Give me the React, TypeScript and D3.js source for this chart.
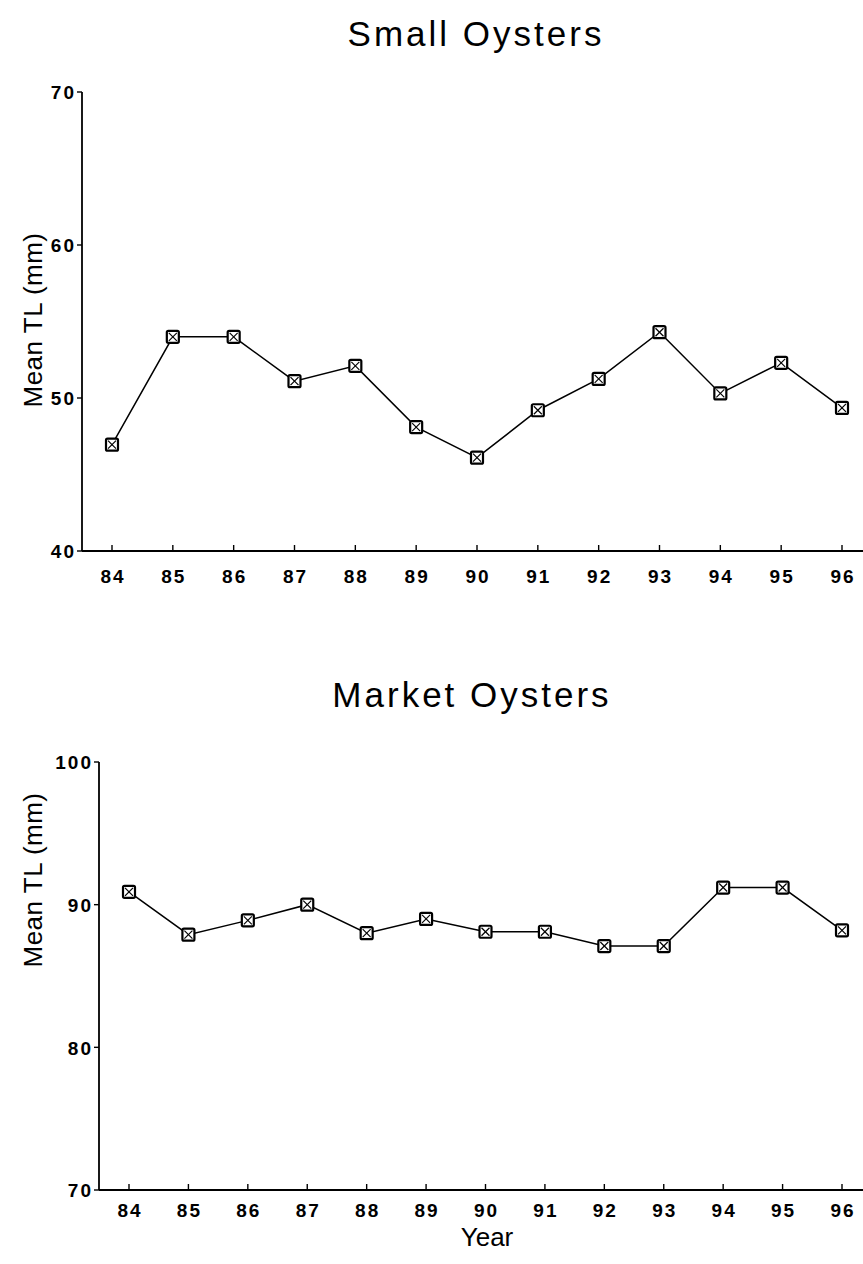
import React from "react";
import * as d3 from "d3";

const years = [84, 85, 86, 87, 88, 89, 90, 91, 92, 93, 94, 95, 96];
const smallValues = [46.95, 54.0, 54.0, 51.1, 52.1, 48.1, 46.1, 49.2, 51.25, 54.3, 50.3, 52.3, 49.35];
const marketValues = [90.9, 87.9, 88.9, 90.0, 88.0, 89.0, 88.1, 88.1, 87.1, 87.1, 91.2, 91.2, 88.2];
const smallTicks = [40, 50, 60, 70];
const marketTicks = [70, 80, 90, 100];

const FONT = "'Liberation Sans', Arial, Helvetica, sans-serif";

type PanelProps = {
  title: string;
  titleX: number;
  titleY: number;
  values: number[];
  yTicks: number[];
  axisX: number;
  top: number;
  bottom: number;
  x84: number;
  x96: number;
  right: number;
  yLabelCenter: number;
  labelDy: number;
  xTitle?: string;
  xTitleX?: number;
  xTitleY?: number;
};

function Panel(p: PanelProps) {
  const y = d3.scaleLinear().domain([p.yTicks[0], p.yTicks[p.yTicks.length - 1]]).range([p.bottom, p.top]);
  const x = d3.scaleLinear().domain([years[0], years[years.length - 1]]).range([p.x84, p.x96]);
  const pts = years.map((yr, i) => [x(yr), y(p.values[i])] as [number, number]);
  const line = d3.line()(pts) || "";
  const s = 6;
  return (
    <g>
      <text x={p.titleX} y={p.titleY} fontFamily={FONT} fontSize={35} letterSpacing={3} textAnchor="middle">{p.title}</text>
      <line x1={p.axisX} x2={p.axisX} y1={p.top} y2={p.bottom} stroke="#000" strokeWidth={1.8} />
      <line x1={p.axisX} x2={p.right} y1={p.bottom} y2={p.bottom} stroke="#000" strokeWidth={1.8} />
      {p.yTicks.map((t) => (
        <g key={t}>
          <line x1={p.axisX - 5} x2={p.axisX} y1={y(t)} y2={y(t)} stroke="#000" strokeWidth={1.4} />
          <text x={p.axisX - 6} y={y(t)} dy="0.38em" textAnchor="end" fontFamily={FONT} fontSize={19} fontWeight="bold" letterSpacing={2}>{t}</text>
        </g>
      ))}
      {years.map((yr) => (
        <g key={yr}>
          <line x1={x(yr)} x2={x(yr)} y1={p.bottom} y2={p.bottom - 6} stroke="#000" strokeWidth={1.4} />
          <text x={x(yr) + 1} y={p.bottom + p.labelDy} textAnchor="middle" fontFamily={FONT} fontSize={19} fontWeight="bold" letterSpacing={2}>{yr}</text>
        </g>
      ))}
      <text transform={`translate(42,${p.yLabelCenter}) rotate(-90)`} textAnchor="middle" fontFamily={FONT} fontSize={26} letterSpacing={0.5}>Mean TL (mm)</text>
      {p.xTitle && (
        <text x={p.xTitleX} y={p.xTitleY} textAnchor="middle" fontFamily={FONT} fontSize={26}>{p.xTitle}</text>
      )}
      <path d={line} fill="none" stroke="#000" strokeWidth={1.5} />
      {pts.map(([px, py], i) => (
        <g key={i}>
          <rect x={px - s} y={py - s} width={2 * s} height={2 * s} fill="#fff" stroke="#000" strokeWidth={2.2} rx={1.5} />
          <line x1={px - s + 2} y1={py - s + 2} x2={px + s - 2} y2={py + s - 2} stroke="#000" strokeWidth={1.2} />
          <line x1={px - s + 2} y1={py + s - 2} x2={px + s - 2} y2={py - s + 2} stroke="#000" strokeWidth={1.2} />
        </g>
      ))}
    </g>
  );
}

export default function App() {
  return (
    <svg width={863} height={1264} style={{ position: "absolute", left: 0, top: 0, background: "#fff" }}>
      <rect width={863} height={1264} fill="#fff" />
      <Panel title="Small Oysters" titleX={476} titleY={46} values={smallValues} yTicks={smallTicks}
        axisX={82} top={92} bottom={551} x84={112} x96={842} right={863} yLabelCenter={320} labelDy={32} />
      <Panel title="Market Oysters" titleX={472} titleY={707} values={marketValues} yTicks={marketTicks}
        axisX={99} top={762} bottom={1190} x84={129} x96={842} right={863} yLabelCenter={880} labelDy={27}
        xTitle="Year" xTitleX={487} xTitleY={1246} />
    </svg>
  );
}
